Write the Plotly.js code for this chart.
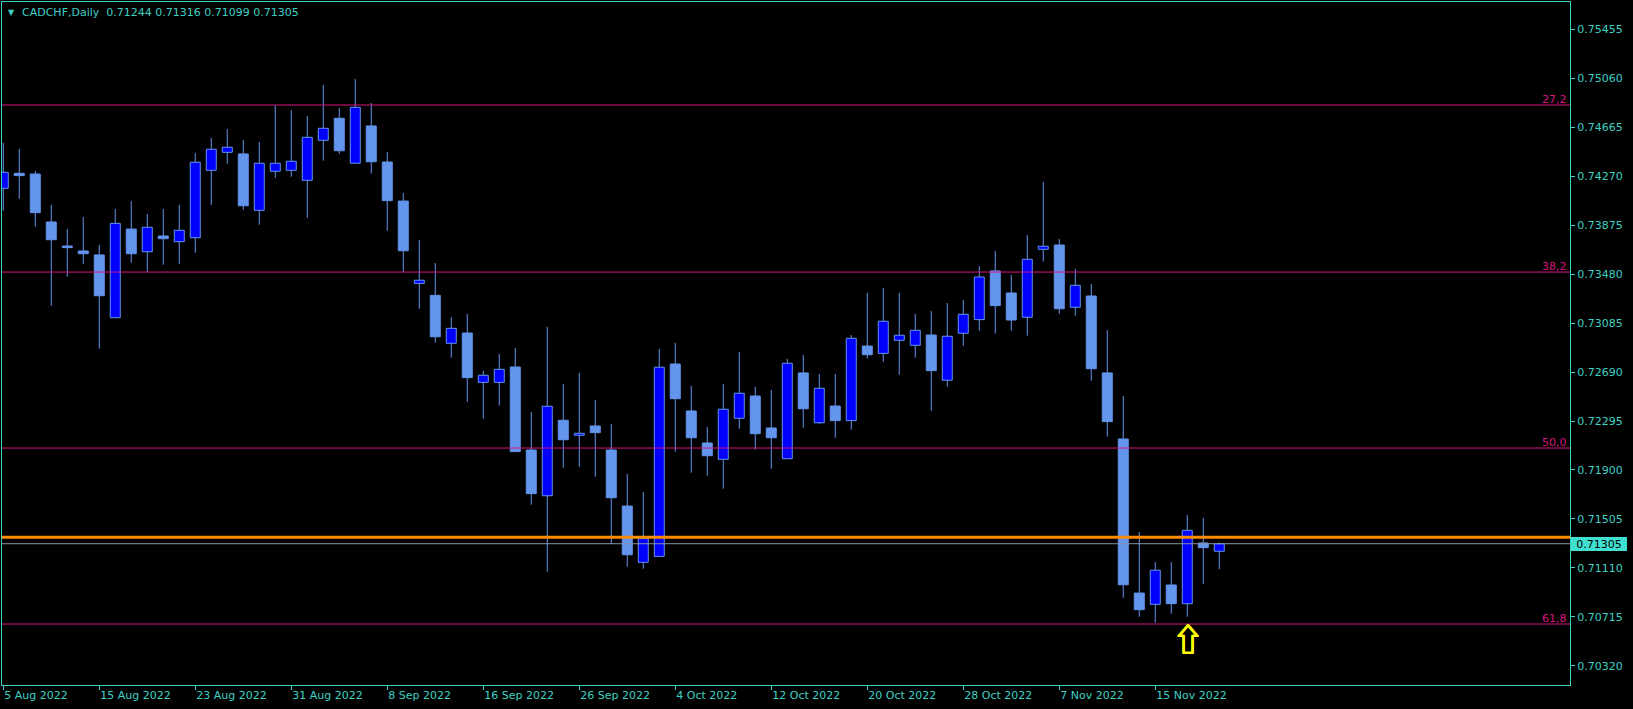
<!DOCTYPE html>
<html><head><meta charset="utf-8">
<script src="https://cdn.plot.ly/plotly-3.0.1.min.js"></script>
<style>html,body{margin:0;padding:0;background:#000;}#chart{width:1633px;height:709px;}</style>
</head><body><div id="chart"></div>
<script>
const symbol = 'CADCHF,Daily';
const dates = [
 '2022-08-05','2022-08-08','2022-08-09','2022-08-10','2022-08-11','2022-08-12','2022-08-15','2022-08-16','2022-08-17','2022-08-18',
 '2022-08-19','2022-08-22','2022-08-23','2022-08-24','2022-08-25','2022-08-26','2022-08-29','2022-08-30','2022-08-31','2022-09-01',
 '2022-09-02','2022-09-05','2022-09-06','2022-09-07','2022-09-08','2022-09-09','2022-09-12','2022-09-13','2022-09-14','2022-09-15',
 '2022-09-16','2022-09-19','2022-09-20','2022-09-21','2022-09-22','2022-09-23','2022-09-26','2022-09-27','2022-09-28','2022-09-29',
 '2022-09-30','2022-10-03','2022-10-04','2022-10-05','2022-10-06','2022-10-07','2022-10-10','2022-10-11','2022-10-12','2022-10-13',
 '2022-10-14','2022-10-17','2022-10-18','2022-10-19','2022-10-20','2022-10-21','2022-10-24','2022-10-25','2022-10-26','2022-10-27',
 '2022-10-28','2022-10-31','2022-11-01','2022-11-02','2022-11-03','2022-11-04','2022-11-07','2022-11-08','2022-11-09','2022-11-10',
 '2022-11-11','2022-11-14','2022-11-15','2022-11-16','2022-11-17','2022-11-18','2022-11-21'];
const open = [
 0.74173,0.74294,0.74288,0.73901,0.73707,0.73667,0.73635,0.73129,0.73844,0.73661,
 0.73788,0.73742,0.73774,0.74318,0.74463,0.74450,0.73995,0.74310,0.74318,0.74237,
 0.74560,0.74738,0.74375,0.74676,0.74385,0.74070,0.73406,0.73309,0.72922,0.73005,
 0.72607,0.72607,0.72731,0.72061,0.71692,0.72301,0.72180,0.72255,0.72061,0.71609,
 0.71155,0.71203,0.72755,0.72376,0.72118,0.71986,0.72317,0.72497,0.72239,0.71991,
 0.72683,0.72281,0.72416,0.72298,0.72900,0.72841,0.72946,0.72906,0.72989,0.72624,
 0.73003,0.73113,0.73506,0.73328,0.73132,0.73681,0.73715,0.73213,0.73304,0.72683,
 0.72150,0.70907,0.70816,0.70972,0.70821,0.71311,0.71244];
const high = [
 0.74541,0.74490,0.74312,0.74038,0.73844,0.73941,0.73715,0.74006,0.74070,0.73965,
 0.74006,0.74038,0.74458,0.74579,0.74651,0.74563,0.74546,0.74843,0.74802,0.74756,
 0.75006,0.74821,0.75055,0.74861,0.74466,0.74135,0.73756,0.73570,0.73132,0.73159,
 0.72699,0.72836,0.72884,0.72368,0.73054,0.72594,0.72683,0.72465,0.72271,0.71868,
 0.71722,0.72876,0.72925,0.72578,0.72247,0.72594,0.72852,0.72570,0.72545,0.72796,
 0.72828,0.72674,0.72674,0.72989,0.73328,0.73368,0.73328,0.73159,0.73183,0.73247,
 0.73272,0.73546,0.73667,0.73473,0.73796,0.74224,0.73764,0.73522,0.73401,0.73029,
 0.72497,0.71400,0.71157,0.71157,0.71537,0.71513,0.71316];
const low = [
 0.73992,0.74089,0.73863,0.73226,0.73460,0.73564,0.72879,0.73129,0.73573,0.73497,
 0.73556,0.73564,0.73653,0.74038,0.74371,0.74000,0.73879,0.74258,0.74266,0.73936,
 0.74396,0.74452,0.74375,0.74291,0.73831,0.73497,0.73201,0.72927,0.72806,0.72451,
 0.72314,0.72419,0.72048,0.71620,0.71079,0.71918,0.71926,0.71846,0.71303,0.71120,
 0.71103,0.71203,0.72048,0.71878,0.71854,0.71749,0.72233,0.72064,0.71910,0.71991,
 0.72241,0.72273,0.72160,0.72225,0.72798,0.72774,0.72669,0.72806,0.72378,0.72572,
 0.72903,0.73024,0.73000,0.73024,0.72984,0.73581,0.73161,0.73145,0.72620,0.72169,
 0.70869,0.70716,0.70668,0.70740,0.70716,0.70982,0.71099];
const close = [
 0.74302,0.74275,0.73976,0.73758,0.73694,0.73645,0.73306,0.73890,0.73645,0.73858,
 0.73766,0.73834,0.74383,0.74488,0.74504,0.74032,0.74375,0.74375,0.74391,0.74584,
 0.74657,0.74476,0.74826,0.74387,0.74073,0.73669,0.73431,0.72975,0.73043,0.72645,
 0.72664,0.72712,0.72048,0.71709,0.72414,0.72144,0.72196,0.72201,0.71676,0.71216,
 0.71349,0.72729,0.72475,0.72160,0.72015,0.72390,0.72519,0.72193,0.72160,0.72761,
 0.72394,0.72559,0.72298,0.72962,0.72830,0.73100,0.72987,0.73027,0.72701,0.72979,
 0.73156,0.73457,0.73226,0.73110,0.73600,0.73705,0.73201,0.73390,0.72717,0.72290,
 0.70974,0.70773,0.71091,0.70821,0.71413,0.71273,0.71305];
const xTickDates = ['2022-08-05','2022-08-15','2022-08-23','2022-08-31','2022-09-08','2022-09-16','2022-09-26','2022-10-04','2022-10-12','2022-10-20','2022-10-28','2022-11-07','2022-11-15'];
const xTickLabels = ['5 Aug 2022','15 Aug 2022','23 Aug 2022','31 Aug 2022','8 Sep 2022','16 Sep 2022','26 Sep 2022','4 Oct 2022','12 Oct 2022','20 Oct 2022','28 Oct 2022','7 Nov 2022','15 Nov 2022'];
const yTickLabels = ['0.70320','0.70715','0.71110','0.71505','0.71900','0.72295','0.72690','0.73085','0.73480','0.73875','0.74270','0.74665','0.75060','0.75455'];
const fibLevels = [0.74845, 0.73497, 0.72077, 0.70657];
const fibLabels = ['27,2', '38,2', '50,0', '61,8'];
const orangeLevel = 0.71357;
const signalDate = '2022-11-17';

const FG = '#3fd0c4';
const UPFILL = '#0000ff', DNFILL = '#6495ed', EDGE = '#6495ed';
const FIB = '#d8147f';
const n = close.length - 1;

const bodyBase = open.map((o, i) => Math.min(o, close[i]));
const bodyTop = open.map((o, i) => Math.max(o, close[i]));
const bodyH = bodyTop.map((t, i) => t - bodyBase[i]);
const fills = open.map((o, i) => close[i] > o ? UPFILL : DNFILL);

const wx = [], wy = [];
dates.forEach((d, i) => {
  if (high[i] > bodyTop[i]) { wx.push(d, d, null); wy.push(high[i], bodyTop[i], null); }
  if (low[i] < bodyBase[i]) { wx.push(d, d, null); wy.push(bodyBase[i], low[i], null); }
});

const traces = [
  {type: 'bar', x: dates, y: bodyH, base: bodyBase, width: 0.625,
   marker: {color: fills, line: {color: EDGE, width: 1}}, hoverinfo: 'skip'},
  {type: 'scatter', mode: 'lines', x: wx, y: wy, connectgaps: false,
   line: {color: EDGE, width: 1}, hoverinfo: 'skip'}
];

const shapes = [];
fibLevels.forEach(v => shapes.push({type: 'line', xref: 'paper', x0: 0, x1: 1, yref: 'y', y0: v, y1: v,
  line: {color: FIB, width: 1}, layer: 'above'}));
shapes.push({type: 'line', xref: 'paper', x0: 0, x1: 1, yref: 'y', y0: close[n], y1: close[n],
  line: {color: '#8a929c', width: 1}, layer: 'above'});
shapes.push({type: 'line', xref: 'paper', x0: 0, x1: 1, yref: 'y', y0: orangeLevel, y1: orangeLevel,
  line: {color: '#ff8c00', width: 3}, layer: 'above'});

const f5 = v => v.toFixed(5);
const annotations = [];
annotations.push({xref: 'paper', yref: 'paper', x: 0, y: 1, xanchor: 'left', yanchor: 'top',
  xshift: 4, yshift: -4, showarrow: false, text: '▼', font: {family: 'DejaVu Sans', size: 8, color: FG}});
annotations.push({xref: 'paper', yref: 'paper', x: 0, y: 1, xanchor: 'left', yanchor: 'top',
  xshift: 18, yshift: -2, showarrow: false,
  text: symbol + '\u00a0\u00a0' + [open[n], high[n], low[n], close[n]].map(f5).join('\u00a0'),
  font: {family: 'DejaVu Sans', size: 11, color: FG}});
fibLevels.forEach((v, i) => annotations.push({xref: 'paper', yref: 'y', x: 1, y: v, xanchor: 'right', yanchor: 'bottom',
  xshift: -1, yshift: -3, showarrow: false, text: fibLabels[i], font: {family: 'DejaVu Sans', size: 11, color: FIB}}));
annotations.push({xref: 'paper', yref: 'y', x: 1, y: close[n], xanchor: 'left', yanchor: 'middle',
  xshift: 1, showarrow: false, text: f5(close[n]), bgcolor: '#40e0d0', borderpad: 0, borderwidth: 0,
  width: 56, height: 14, align: 'center', font: {family: 'DejaVu Sans', size: 11, color: '#000000'}});
const si = dates.indexOf(signalDate);
annotations.push({xref: 'x', yref: 'y', x: signalDate, y: low[si], xanchor: 'center', yanchor: 'top',
  yshift: 5, showarrow: false, text: '⇧',
  font: {family: 'Noto Sans CJK SC', size: 31, weight: 'bold', color: '#ffff00',
         shadow: '1px 0px 0px #ffff00, 0px 1px 0px #ffff00, 1px 1px 0px #ffff00'}});

const layout = {
  width: 1633, height: 709,
  margin: {l: 2, r: 63, t: 2, b: 24, pad: 0},
  paper_bgcolor: '#000000', plot_bgcolor: '#000000',
  showlegend: false, barmode: 'overlay', hovermode: false, dragmode: false,
  font: {family: 'DejaVu Sans', size: 11, color: FG},
  xaxis: {type: 'category', categoryorder: 'array', categoryarray: dates,
    range: [-0.08, 97.92], tickvals: xTickDates, ticktext: xTickLabels,
    ticks: 'outside', ticklen: 4, tickcolor: FG, tickwidth: 1, ticklabelposition: 'outside right',
    showline: true, linecolor: FG, linewidth: 1, mirror: true, showgrid: false, zeroline: false,
    fixedrange: true, tickfont: {family: 'DejaVu Sans', size: 11, color: FG}},
  yaxis: {side: 'right', range: [0.70165, 0.75676],
    tickvals: yTickLabels.map(Number), ticktext: yTickLabels,
    ticks: 'outside', ticklen: 4, tickcolor: FG, tickwidth: 1,
    showline: true, linecolor: FG, linewidth: 1, mirror: true, showgrid: false, zeroline: false,
    fixedrange: true, tickfont: {family: 'DejaVu Sans', size: 11, color: FG}},
  shapes: shapes, annotations: annotations
};
Plotly.newPlot('chart', traces, layout, {staticPlot: true, displayModeBar: false});
</script></body></html>
